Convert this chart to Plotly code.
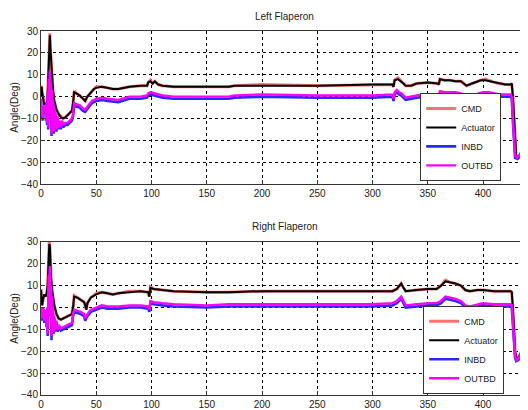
import plotly.graph_objects as go
from plotly.subplots import make_subplots

# ---------------- Left Flaperon ----------------
t_left_act = [0, 0.5, 1, 2, 3, 4, 5, 6, 7, 7.5, 8, 8.5, 9, 9.5, 10, 11, 12, 14, 16, 18, 20, 22, 24, 26, 28, 29, 30,
              32, 35, 38, 40, 42, 45, 48, 50, 55, 60, 65, 70, 80, 90, 96, 97, 99, 101, 103, 106, 110, 120, 150, 170,
              175, 200, 250, 300, 318, 319, 320, 323, 326, 328, 330, 335, 340, 350, 359, 360, 361, 365, 370, 375,
              380, 385, 390, 398, 402, 410, 415, 420, 425, 426, 427, 428, 429, 430, 432, 434, 437, 440.7]
left_actuator = [0, 4.5, 2, -2, -4, -3, -4, 0, 15, 22, 28, 22, 18, 10, 5, 2, -2, -6, -8, -9.5, -10, -9.5, -8.5, -7.5,
                 -6.5, -3, 2, 1.5, 0.5, -1, -2, 0, 2, 3.5, 4, 4.5, 4, 3.5, 3.5, 4.5, 5, 5, 6.5, 7, 6, 7, 5.5, 5, 4.5,
                 4.5, 4.5, 5, 5, 5, 5.5, 5.5, 4.5, 7.5, 8, 7, 6, 5, 5, 6, 6.5, 6, 5.5, 8, 7.5, 7.5, 7, 7, 5, 6, 7.5,
                 7.5, 6.5, 6, 5.5, 5.5, 6, 0, -10, -20, -27, -28, -26, -23, -19.5]
left_cmd = [0, 5, 2.5, -2, -4, -3, -4, 0.5, 15, 23, 29, 22, 18, 10, 5, 2, -2, -6, -8, -9, -10, -9.5, -8.5, -7.5,
            -6.5, -3, 2.5, 1.5, 0.5, -1, -2, 0, 2, 3.5, 4.5, 4.5, 4, 3.5, 3.5, 4.5, 5, 5, 6.5, 7.5, 6, 7, 5.5, 5,
            4.5, 4.5, 4.5, 5, 5.5, 5, 5.5, 5.5, 4.5, 7.5, 8.5, 7, 6, 5, 5, 6, 6.5, 6, 5.5, 8, 7.5, 7.5, 7, 7, 5, 6,
            7.5, 8, 6.5, 6, 5.5, 5.5, 6, 0, -10, -20, -27, -28, -26, -23, -19.5]

t_left_wing = [0, 0.5, 1, 1.5, 2, 3, 4, 4.5, 5, 5.5, 6, 6.5, 7, 7.5, 8, 8.5, 9, 9.5, 10, 10.5, 11, 11.5, 12, 12.5,
               13, 14, 15, 16, 17, 18, 19, 20, 22, 24, 26, 28, 29, 30, 32, 35, 38, 40, 43, 46, 50, 55, 60, 70, 80,
               90, 96, 97, 99, 102, 106, 110, 120, 150, 170, 175, 200, 250, 300, 318, 319, 320, 322, 324, 326, 330,
               335, 340, 350, 359, 360, 361, 365, 375, 380, 385, 390, 400, 405, 415, 425, 426, 427, 428, 429, 431,
               434, 437, 440.7]
left_outbd = [-1, -9, -6, -10, -4, -6, -4, -10, -3, -12, 2, -14, 8, -5, 12, -8, 6, -17, 3, -15, -2, -16, -5, -14, -7,
              -15, -9, -14, -11, -14, -11, -13, -12, -12, -11, -10, -8, -3, -3.5, -4, -5.5, -6, -4, -2, -1, -0.5,
              -1, -1.5, 0, 0, 0.5, 1.5, 2, 1.5, 1, 0.5, 0, 0, 0, 0.5, 1, 0.5, 0.5, 1, -1, 2, 3, 2, 1.5, -0.5, 0,
              0.5, 1, 0.5, -1, 2.5, 2, 2, 1.5, -0.5, 0.5, 2, 2, 1, 1, 0, -10, -20, -27, -28, -26, -23, -19.5]
left_inbd = [-1.5, -10, -7, -11, -5, -7, -5, -11, -4, -13, 1, -15, 7, -6, 11, -9, 5, -18, 2, -16, -3, -17, -6, -15,
             -8, -16, -10, -15, -12, -15, -12, -14, -13, -13, -12, -11, -9, -4, -4.5, -5, -6.5, -7, -5, -3, -2,
             -1.5, -2, -2.5, -1, -1, -0.5, 0.5, 1, 0.5, 0, -0.5, -1, -1, -1, -0.5, 0, -0.5, -0.5, 0, -2, 1, 2, 1,
             0.5, -1.5, -1, -0.5, 0, -0.5, -2, 1.5, 1, 1, 0.5, -1.5, -0.5, 1, 1, 0, 0, -1, -11, -21, -28, -28.5,
             -26.5, -23.5, -20]

# ---------------- Right Flaperon ----------------
t_right_act = [0, 0.5, 1, 2, 3, 4, 5, 6, 7, 7.5, 8, 8.5, 9, 10, 11, 12, 14, 16, 18, 20, 22, 24, 26, 28, 29, 30, 33,
               36, 39, 40, 41, 42, 45, 50, 55, 60, 65, 70, 80, 90, 97, 98, 99, 102, 110, 120, 150, 170, 200, 250,
               300, 318, 322, 326, 328, 330, 340, 350, 358, 362, 366, 370, 375, 380, 384, 388, 395, 400, 410, 425,
               426, 427, 428, 429, 430, 432, 435, 438, 440.7]
right_actuator = [8, 3, 1, 4, 6, 5, 6, 10, 24, 29, 28, 20, 14, 8, 4, 1, -3, -5, -5.5, -5, -4.5, -4, -3.5, -3, 0, 5,
                  4.5, 3.5, 2.5, 1, -1, 2, 4.5, 6, 7, 6.5, 6, 6.5, 7, 7.5, 7, 5, 9, 8.5, 8, 7.5, 7, 7, 7.5, 7.5,
                  7.5, 7.5, 8.5, 11, 9, 7.5, 8, 8.5, 8.5, 10, 12, 11.5, 11, 10, 8, 7.5, 8, 8, 7.5, 7.5, 7, 0, -10,
                  -20, -23, -23, -20, -17, -15.5]
right_cmd = [8.5, 3, 1, 4, 6, 5, 6, 10, 24, 30, 28, 20, 14, 8, 4, 1, -3, -5, -5.5, -5, -4.5, -4, -3.5, -3, 0, 5.5,
             4.5, 3.5, 2.5, 1, -1, 2, 4.5, 6.5, 7, 6.5, 6, 6.5, 7.5, 7.5, 7, 5, 9.5, 8.5, 8, 7.5, 7, 7, 7.5, 7.5,
             7.5, 7.5, 8.5, 11, 9, 7.5, 8, 8.5, 8.5, 10, 12.5, 11.5, 11, 10, 8, 7.5, 8, 8, 7.5, 7.5, 7, 0, -10,
             -20, -23, -23, -20, -17, -15.5]

t_right_wing = [0, 0.5, 1, 2, 3, 4, 5, 5.5, 6, 6.5, 7, 7.5, 8, 8.5, 9, 9.5, 10, 10.5, 11, 11.5, 12, 13, 14, 15, 16,
                18, 20, 22, 25, 28, 29, 30, 33, 36, 39, 40, 42, 45, 50, 55, 60, 70, 80, 90, 97, 98, 99, 102, 110,
                120, 150, 170, 200, 250, 300, 318, 322, 326, 328, 330, 340, 350, 358, 362, 366, 370, 375, 380, 384,
                388, 395, 400, 410, 425, 426, 427, 428, 429, 430, 432, 435, 438, 440.7]
right_outbd = [0, -5, -2, 0, -6, -1, -8, 0, -12, 3, 15, 5, 19, -3, 10, -13, 5, -10, -2, -11, -4, -10, -6, -10, -8,
               -9.5, -9, -8.5, -8, -7, -3, -1, -1.5, -2, -3, -5, -3, -1, 0, 1, 0.5, 0.5, 1, 1, 0.5, -1, 3, 2.5, 2,
               1.5, 1, 1.5, 1.5, 1.5, 1.5, 2, 3, 5, 3, 1, 1.5, 2, 2, 3, 5, 4.5, 4, 3, 1, 0.5, 1.5, 2, 1.5, 1.5, 1,
               -8, -15, -22, -24, -23.5, -20.5, -17.5, -15.5]
right_inbd = [-0.5, -6, -3, -1, -7, -2, -9, -1, -13, 2, 14, 4, 18, -4, 9, -15, 4, -11, -3, -12, -5, -11, -7, -11,
              -9, -10.5, -10, -9.5, -9, -8, -4, -2, -2.5, -3, -4, -6, -4, -2, -1, 0, -0.5, -0.5, 0, 0, -0.5, -2, 2,
              1.5, 1, 0.5, 0, 0.5, 0.5, 0.5, 0.5, 1, 2, 4, 2, 0, 0.5, 1, 1, 2, 4, 3.5, 3, 2, 0, -0.5, 0.5, 1, 0.5,
              0.5, 0, -9, -16, -23, -24.5, -24, -21, -18, -16]

x_ticks = [0, 50, 100, 150, 200, 250, 300, 350, 400]
y_ticks = [-40, -30, -20, -10, 0, 10, 20, 30]
series_names = ["CMD", "Actuator", "INBD", "OUTBD"]
series_colors = ["#ff7070", "#000000", "#2a2aff", "#ff00ff"]

FONT = "Liberation Sans, Arial, sans-serif"

fig = make_subplots(rows=2, cols=1, vertical_spacing=0.159)

panels = [
    (1, "legend", [(t_left_act, left_cmd), (t_left_act, left_actuator), (t_left_wing, left_inbd), (t_left_wing, left_outbd)]),
    (2, "legend2", [(t_right_act, right_cmd), (t_right_act, right_actuator), (t_right_wing, right_inbd), (t_right_wing, right_outbd)]),
]
widths = [3.0, 2.0, 2.6, 2.4]
for row, leg, data in panels:
    for (xs, ys), name, col, w in zip(data, series_names, series_colors, widths):
        fig.add_trace(go.Scatter(x=xs, y=ys, mode="lines", name=name, legend=leg,
                                 line=dict(color=col, width=w)), row=row, col=1)

axis_common = dict(showline=True, linecolor="#333333", linewidth=1, mirror=True,
                   showgrid=True, gridcolor="#000000", griddash="dot", gridwidth=1,
                   ticks="inside", ticklen=4, tickcolor="#333333", zeroline=False, automargin=False,
                   tickfont=dict(family=FONT, size=10, color="#222222"))
for r in (1, 2):
    fig.update_xaxes(range=[0, 440.7], tickvals=x_ticks, row=r, col=1, **axis_common)
    fig.update_yaxes(range=[-40, 30], tickvals=y_ticks, row=r, col=1,
                     title=dict(text="Angle(Deg)", font=dict(family=FONT, size=10, color="#222222"), standoff=0),
                     **axis_common)

# page body has an 8 px default margin, so the figure is 8 px smaller and margins are reduced by 8
fig.update_layout(
    width=520, height=402,
    margin=dict(l=33, r=0, t=23, b=15, autoexpand=False),
    paper_bgcolor="white", plot_bgcolor="white",
    font=dict(family=FONT, size=10, color="#222222"),
    legend=dict(x=0.945, y=0.83, xanchor="right", yanchor="top", bgcolor="white",
                bordercolor="#333333", borderwidth=1, font=dict(family=FONT, size=9),
                itemwidth=30, tracegroupgap=0),
    legend2=dict(x=0.951, y=0.245, xanchor="right", yanchor="top", bgcolor="white",
                 bordercolor="#333333", borderwidth=1, font=dict(family=FONT, size=9),
                 itemwidth=30, tracegroupgap=0),
    annotations=[
        dict(text="Left Flaperon", x=0.5, y=1, xref="paper", yref="paper", yanchor="bottom",
             yshift=7, showarrow=False, font=dict(family=FONT, size=10, color="#222222")),
        dict(text="Right Flaperon", x=0.5, y=0.423, xref="paper", yref="paper", yanchor="bottom",
             yshift=7, showarrow=False, font=dict(family=FONT, size=10, color="#222222")),
    ],
)

fig.write_html("out.html")
